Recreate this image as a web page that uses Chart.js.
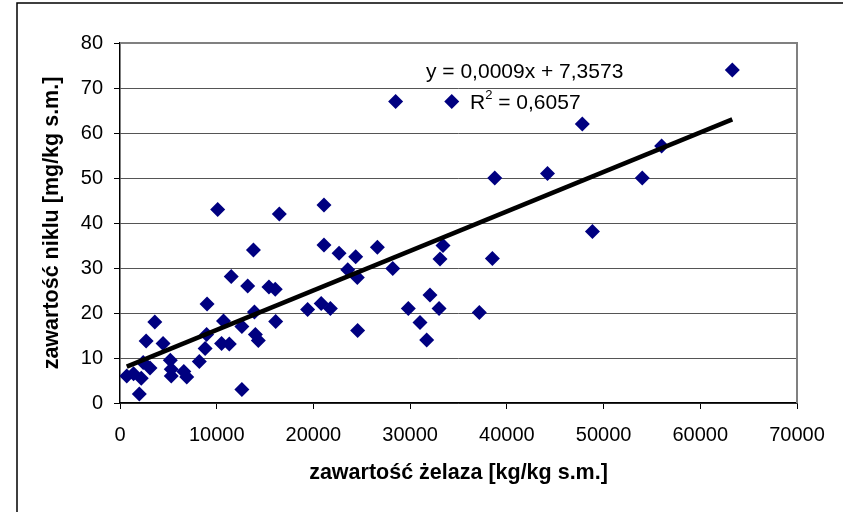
<!DOCTYPE html>
<html>
<head>
<meta charset="utf-8">
<script src="https://cdn.jsdelivr.net/npm/chart.js@4/dist/chart.umd.min.js"></script>
<style>
    html, body { margin: 0; padding: 0; background: #fff; }
    #wrap { width: 843px; height: 512px; position: relative; }
</style>
</head>
<body>
<div id="wrap"><canvas id="output" width="843" height="512"></canvas></div>
<script>
// zawartość żelaza (x) i niklu (y) w próbkach
var ironValues = [
    700, 1400, 2000, 2200, 2400, 2700, 3100, 3600, 4450, 5200,
    5300, 5300, 6600, 6900, 8200, 8800, 9000, 8960, 10100, 10500,
    10700, 11300, 11500, 12600, 12600, 13200, 13800, 13900, 14000, 14300,
    15400, 16050, 16100, 16470, 19400, 20800, 21090, 21090, 21750, 22650,
    23550, 24370, 24540, 24570, 26610, 28200, 28500, 29810, 31020, 31710,
    32050, 32990, 33090, 33400, 34300, 37150, 38500, 38750, 44200, 47800,
    48850, 54000, 56000, 63310
];
var nickelValues = [
    6, 6.5, 2, 5.5, 9, 13.8, 7.8, 18, 13.2, 9.5,
    7.5, 6, 7, 5.8, 9.2, 12.1, 22, 15.2, 43, 13.2,
    18.2, 13.1, 28.1, 3, 17, 26, 34, 20.2, 15.2, 13.9,
    25.8, 25.3, 18.1, 42, 20.8, 22.1, 44, 35.1, 21, 33.3,
    29.6, 32.5, 27.9, 16.1, 34.6, 29.9, 67, 21, 17.9, 14,
    24, 21, 32, 35, 67, 20.1, 32.1, 50, 51, 62,
    38.1, 50, 57.1, 74
];
var xTicks = [0, 10000, 20000, 30000, 40000, 50000, 60000, 70000];
var yTicks = [0, 10, 20, 30, 40, 50, 60, 70, 80];
var equationText = "y = 0,0009x + 7,3573";
var r2Text = "= 0,6057";

// punkty
var points = [];
for (var i = 0; i < ironValues.length; i++) {
    points.push({x: ironValues[i], y: nickelValues[i]});
}

// linia trendu - regresja liniowa
function linearFit(xs, ys) {
    var n = xs.length, sx = 0, sy = 0, sxx = 0, sxy = 0;
    for (var i = 0; i < n; i++) {
        sx += xs[i]; sy += ys[i];
        sxx += xs[i] * xs[i]; sxy += xs[i] * ys[i];
    }
    var a = (n * sxy - sx * sy) / (n * sxx - sx * sx);
    var b = (sy - a * sx) / n;
    return {a: a, b: b};
}
var fit = linearFit(ironValues, nickelValues);
var xMin = Math.min.apply(null, ironValues);
var xMax = Math.max.apply(null, ironValues);
var trend = [
    {x: xMin, y: fit.a * xMin + fit.b},
    {x: xMax, y: fit.a * xMax + fit.b}
];

var font = "'Liberation Sans', Arial, sans-serif";

// ramka wykresu, obramowanie pola i opis równania
var framePlugin = {
    id: 'frame',
    beforeDraw: function (chart) {
        var ctx = chart.ctx;
        ctx.save();
        ctx.fillStyle = '#fff';
        ctx.fillRect(0, 0, chart.width, chart.height);
        ctx.strokeStyle = '#000';
        ctx.lineWidth = 1.5;
        ctx.beginPath();
        ctx.moveTo(17, chart.height);
        ctx.lineTo(17, 3);
        ctx.lineTo(chart.width, 3);
        ctx.stroke();
        ctx.restore();
    },
    beforeDatasetsDraw: function (chart) {
        var ctx = chart.ctx, a = chart.chartArea;
        ctx.save();
        ctx.strokeStyle = '#808080';
        ctx.lineWidth = 2;
        ctx.beginPath();
        ctx.moveTo(a.left, a.top);
        ctx.lineTo(a.right, a.top);
        ctx.lineTo(a.right, a.bottom);
        ctx.stroke();
        ctx.restore();
    },
    afterDraw: function (chart) {
        var ctx = chart.ctx;
        ctx.save();
        ctx.fillStyle = '#000';
        ctx.textBaseline = 'alphabetic';
        ctx.font = "21px " + font;
        ctx.fillText(equationText, 426, 78);
        ctx.fillText("R", 470, 109);
        var w = ctx.measureText("R").width;
        ctx.font = "13px " + font;
        ctx.fillText("2", 470 + w, 99);
        var w2 = ctx.measureText("2").width;
        ctx.font = "21px " + font;
        ctx.fillText(" " + r2Text, 470 + w + w2, 109);
        ctx.restore();
    }
};

var canvas = document.getElementById("output");
var myChart = new Chart(canvas, {
    type: 'scatter',
    data: {
        datasets: [{
                type: 'line',
                label: 'trend',
                data: trend,
                borderColor: '#000',
                borderWidth: 4.5,
                pointRadius: 0,
                fill: false,
                order: 0
            }, {
                label: 'nikiel',
                data: points,
                pointStyle: 'rectRot',
                pointRadius: 7.5,
                pointHoverRadius: 7.5,
                backgroundColor: '#000080',
                borderColor: '#000080',
                borderWidth: 0,
                order: 1
            }]
    },
    options: {
        responsive: false,
        animation: false,
        devicePixelRatio: 1,
        layout: {padding: {left: 0, top: 43, right: 46, bottom: 0}},
        plugins: {
            legend: {display: false},
            tooltip: {enabled: false}
        },
        scales: {
            x: {
                type: 'linear',
                min: 0,
                max: 70000,
                afterBuildTicks: function (scale) {
                    scale.ticks = xTicks.map(function (v) { return {value: v}; });
                },
                afterFit: function (scale) { scale.height = 109; },
                ticks: {
                    color: '#000',
                    font: {family: font, size: 20},
                    padding: 14,
                    maxRotation: 0,
                    autoSkip: false,
                    callback: function (v) { return String(v); }
                },
                grid: {
                    drawOnChartArea: false,
                    drawTicks: true,
                    tickLength: 6,
                    tickColor: '#000'
                },
                border: {color: '#000', width: 1.5},
                title: {
                    display: true,
                    text: 'zawartość żelaza [kg/kg s.m.]',
                    color: '#000',
                    font: {family: font, size: 21.5, weight: 'bold'},
                    padding: {top: 0, bottom: 26}
                }
            },
            y: {
                type: 'linear',
                min: 0,
                max: 80,
                afterBuildTicks: function (scale) {
                    scale.ticks = yTicks.map(function (v) { return {value: v}; });
                },
                afterFit: function (scale) { scale.width = 120; },
                ticks: {
                    color: '#000',
                    font: {family: font, size: 20},
                    padding: 11,
                    autoSkip: false
                },
                grid: {
                    color: '#555',
                    lineWidth: 1,
                    drawTicks: true,
                    tickLength: 6,
                    tickColor: '#000'
                },
                border: {color: '#000', width: 1.5},
                title: {
                    display: true,
                    text: 'zawartość niklu [mg/kg s.m.]',
                    color: '#000',
                    font: {family: font, size: 21.5, weight: 'bold'},
                    padding: {top: 39, bottom: 0}
                }
            }
        }
    },
    plugins: [framePlugin]
});
</script>
</body>
</html>
